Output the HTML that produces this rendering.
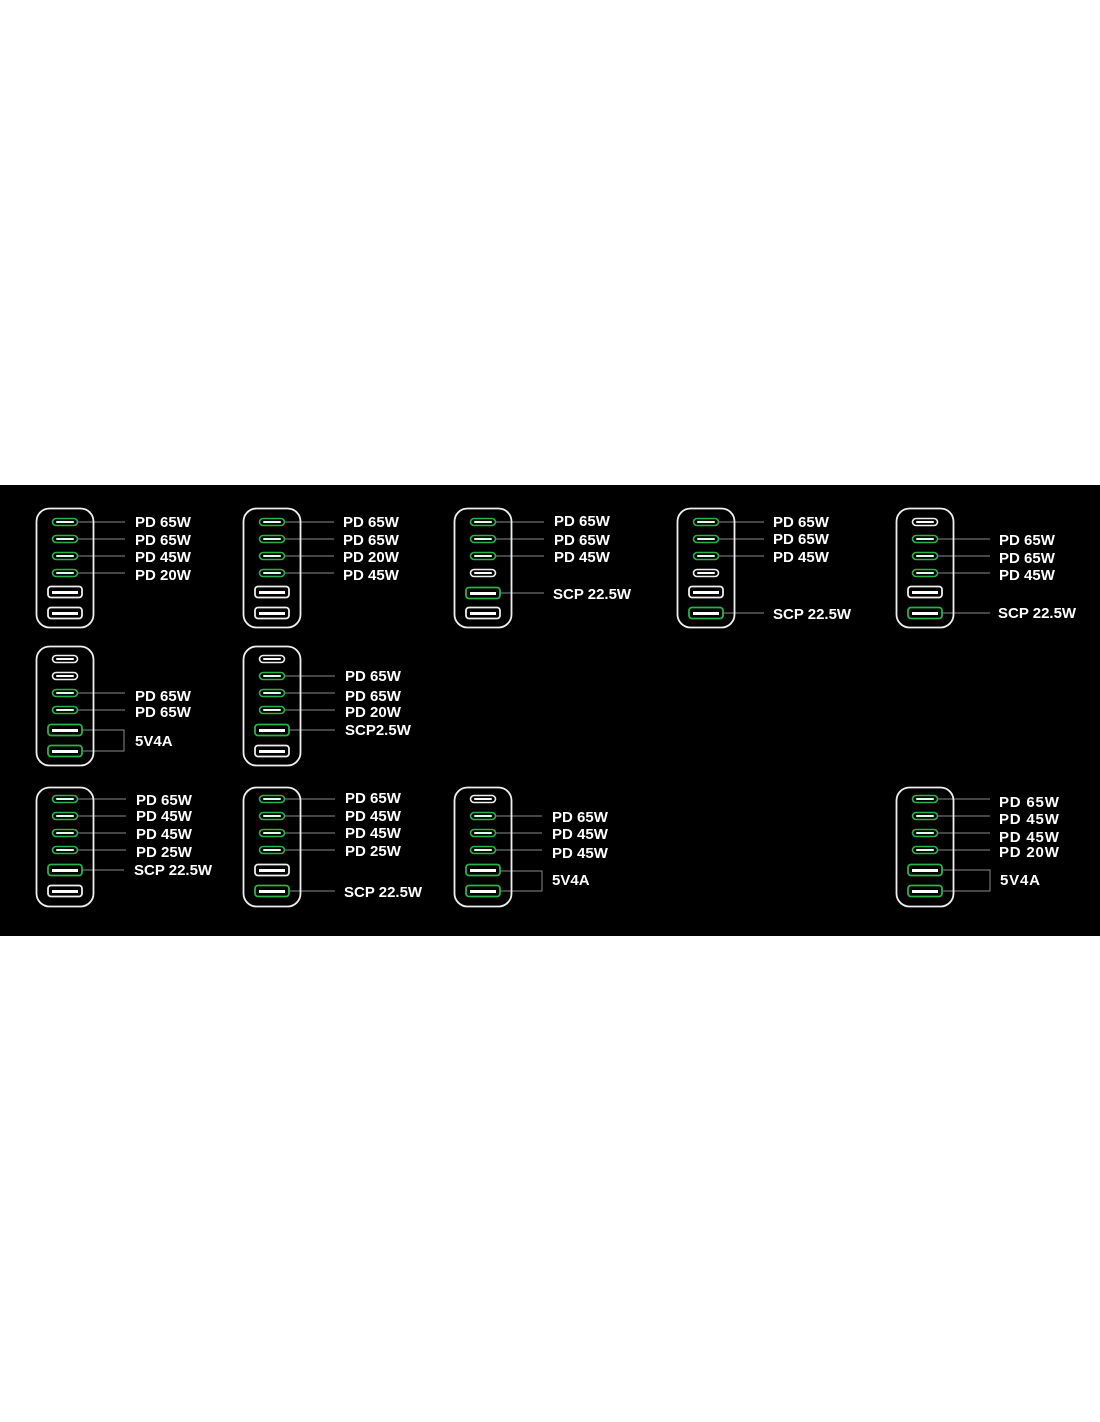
<!DOCTYPE html>
<html><head><style>
html,body{margin:0;padding:0;background:#fff;}
svg{display:block}
text{font-family:"Liberation Sans",Arial,sans-serif;font-weight:bold;font-size:15px;fill:#fff}
</style></head><body>
<svg width="1100" height="1422" viewBox="0 0 1100 1422" xmlns="http://www.w3.org/2000/svg">
<rect x="0" y="0" width="1100" height="1422" fill="#fff"/>
<rect x="0" y="485" width="1100" height="451" fill="#000"/>
<g id="devs"></g>
<!-- Device template drawn explicitly -->
<defs>
<g id="cg"><rect x="-12.5" y="-3.5" width="25" height="7" rx="3.5" fill="none" stroke="#27b34a" stroke-width="1.6"/><line x1="-8" y1="0" x2="8" y2="0" stroke="#dfe" stroke-width="2" stroke-linecap="round"/></g>
<g id="cw"><rect x="-12.5" y="-3.5" width="25" height="7" rx="3.5" fill="none" stroke="#eee" stroke-width="1.6"/><line x1="-8" y1="0" x2="8" y2="0" stroke="#fff" stroke-width="2" stroke-linecap="round"/></g>
<g id="ag"><rect x="-17" y="-5.5" width="34" height="11" rx="3" fill="none" stroke="#27b34a" stroke-width="1.8"/><line x1="-13" y1="0.5" x2="13" y2="0.5" stroke="#fff" stroke-width="3"/></g>
<g id="aw"><rect x="-17" y="-5.5" width="34" height="11" rx="3" fill="none" stroke="#eee" stroke-width="1.8"/><line x1="-13" y1="0.5" x2="13" y2="0.5" stroke="#fff" stroke-width="3"/></g>
<g id="body"><rect x="0.5" y="0.5" width="57" height="119" rx="13" fill="none" stroke="#eee" stroke-width="1.8"/></g>
</defs>
<g stroke="#8a8a8a" stroke-width="1" fill="none">
<!-- lines device1 -->
<path d="M78 522H125M78 539H125M78 556H125M78 573H125"/>
<path d="M285 522H334M285 539H334M285 556H334M285 573H334"/>
<path d="M496 522H544M496 539H544M496 556H544M500 593H544"/>
<path d="M719 522H764M719 539H764M719 556H764M723 613H764"/>
<path d="M938 539H990M938 556H990M938 573H990M942 613H990"/>
<path d="M78 693H125M78 710H125M82 730H124V751H82"/>
<path d="M285 676H335M285 693H335M285 710H335M289 730H335"/>
<path d="M78 799H126M78 816H126M78 833H126M78 850H126M82 870H124"/>
<path d="M285 799H335M285 816H335M285 833H335M285 850H335M289 891H335"/>
<path d="M496 816H542M496 833H542M496 850H542M500 871H542V891H500"/>
<path d="M938 799H990M938 816H990M938 833H990M938 850H990M942 870H990V891H942"/>
</g>
<!-- devices: body at (x,top); C centers +14,+31,+48,+65 ; A +84,+105; center x = x+29 -->
<g transform="translate(36,508)"><use href="#body"/><use href="#cg" x="29" y="14"/><use href="#cg" x="29" y="31"/><use href="#cg" x="29" y="48"/><use href="#cg" x="29" y="65"/><use href="#aw" x="29" y="84"/><use href="#aw" x="29" y="105"/></g>
<g transform="translate(243,508)"><use href="#body"/><use href="#cg" x="29" y="14"/><use href="#cg" x="29" y="31"/><use href="#cg" x="29" y="48"/><use href="#cg" x="29" y="65"/><use href="#aw" x="29" y="84"/><use href="#aw" x="29" y="105"/></g>
<g transform="translate(454,508)"><use href="#body"/><use href="#cg" x="29" y="14"/><use href="#cg" x="29" y="31"/><use href="#cg" x="29" y="48"/><use href="#cw" x="29" y="65"/><use href="#ag" x="29" y="85"/><use href="#aw" x="29" y="105"/></g>
<g transform="translate(677,508)"><use href="#body"/><use href="#cg" x="29" y="14"/><use href="#cg" x="29" y="31"/><use href="#cg" x="29" y="48"/><use href="#cw" x="29" y="65"/><use href="#aw" x="29" y="84"/><use href="#ag" x="29" y="105"/></g>
<g transform="translate(896,508)"><use href="#body"/><use href="#cw" x="29" y="14"/><use href="#cg" x="29" y="31"/><use href="#cg" x="29" y="48"/><use href="#cg" x="29" y="65"/><use href="#aw" x="29" y="84"/><use href="#ag" x="29" y="105"/></g>
<g transform="translate(36,646)"><use href="#body"/><use href="#cw" x="29" y="13"/><use href="#cw" x="29" y="30"/><use href="#cg" x="29" y="47"/><use href="#cg" x="29" y="64"/><use href="#ag" x="29" y="84"/><use href="#ag" x="29" y="105"/></g>
<g transform="translate(243,646)"><use href="#body"/><use href="#cw" x="29" y="13"/><use href="#cg" x="29" y="30"/><use href="#cg" x="29" y="47"/><use href="#cg" x="29" y="64"/><use href="#ag" x="29" y="84"/><use href="#aw" x="29" y="105"/></g>
<g transform="translate(36,787)"><use href="#body"/><use href="#cg" x="29" y="12"/><use href="#cg" x="29" y="29"/><use href="#cg" x="29" y="46"/><use href="#cg" x="29" y="63"/><use href="#ag" x="29" y="83"/><use href="#aw" x="29" y="104"/></g>
<g transform="translate(243,787)"><use href="#body"/><use href="#cg" x="29" y="12"/><use href="#cg" x="29" y="29"/><use href="#cg" x="29" y="46"/><use href="#cg" x="29" y="63"/><use href="#aw" x="29" y="83"/><use href="#ag" x="29" y="104"/></g>
<g transform="translate(454,787)"><use href="#body"/><use href="#cw" x="29" y="12"/><use href="#cg" x="29" y="29"/><use href="#cg" x="29" y="46"/><use href="#cg" x="29" y="63"/><use href="#ag" x="29" y="83"/><use href="#ag" x="29" y="104"/></g>
<g transform="translate(896,787)"><use href="#body"/><use href="#cg" x="29" y="12"/><use href="#cg" x="29" y="29"/><use href="#cg" x="29" y="46"/><use href="#cg" x="29" y="63"/><use href="#ag" x="29" y="83"/><use href="#ag" x="29" y="104"/></g>
<!-- labels -->
<text x="135" y="527">PD 65W</text><text x="135" y="545">PD 65W</text><text x="135" y="562">PD 45W</text><text x="135" y="580">PD 20W</text>
<text x="343" y="527">PD 65W</text><text x="343" y="545">PD 65W</text><text x="343" y="562">PD 20W</text><text x="343" y="580">PD 45W</text>
<text x="554" y="526">PD 65W</text><text x="554" y="545">PD 65W</text><text x="554" y="562">PD 45W</text><text x="553" y="599">SCP 22.5W</text>
<text x="773" y="527">PD 65W</text><text x="773" y="544">PD 65W</text><text x="773" y="562">PD 45W</text><text x="773" y="619">SCP 22.5W</text>
<text x="999" y="545">PD 65W</text><text x="999" y="563">PD 65W</text><text x="999" y="580">PD 45W</text><text x="998" y="618">SCP 22.5W</text>
<text x="135" y="701">PD 65W</text><text x="135" y="717">PD 65W</text><text x="135" y="746">5V4A</text>
<text x="345" y="681">PD 65W</text><text x="345" y="701">PD 65W</text><text x="345" y="717">PD 20W</text><text x="345" y="735">SCP2.5W</text>
<text x="136" y="805">PD 65W</text><text x="136" y="821">PD 45W</text><text x="136" y="839">PD 45W</text><text x="136" y="857">PD 25W</text><text x="134" y="875">SCP 22.5W</text>
<text x="345" y="803">PD 65W</text><text x="345" y="821">PD 45W</text><text x="345" y="838">PD 45W</text><text x="345" y="856">PD 25W</text><text x="344" y="897">SCP 22.5W</text>
<text x="552" y="822">PD 65W</text><text x="552" y="839">PD 45W</text><text x="552" y="858">PD 45W</text><text x="552" y="885">5V4A</text>
<g style="font-size:13px;letter-spacing:0.8px"><text x="999" y="807">PD 65W</text><text x="999" y="824">PD 45W</text><text x="999" y="842">PD 45W</text><text x="999" y="857">PD 20W</text><text x="1000" y="885">5V4A</text></g>
</svg>
</body></html>
